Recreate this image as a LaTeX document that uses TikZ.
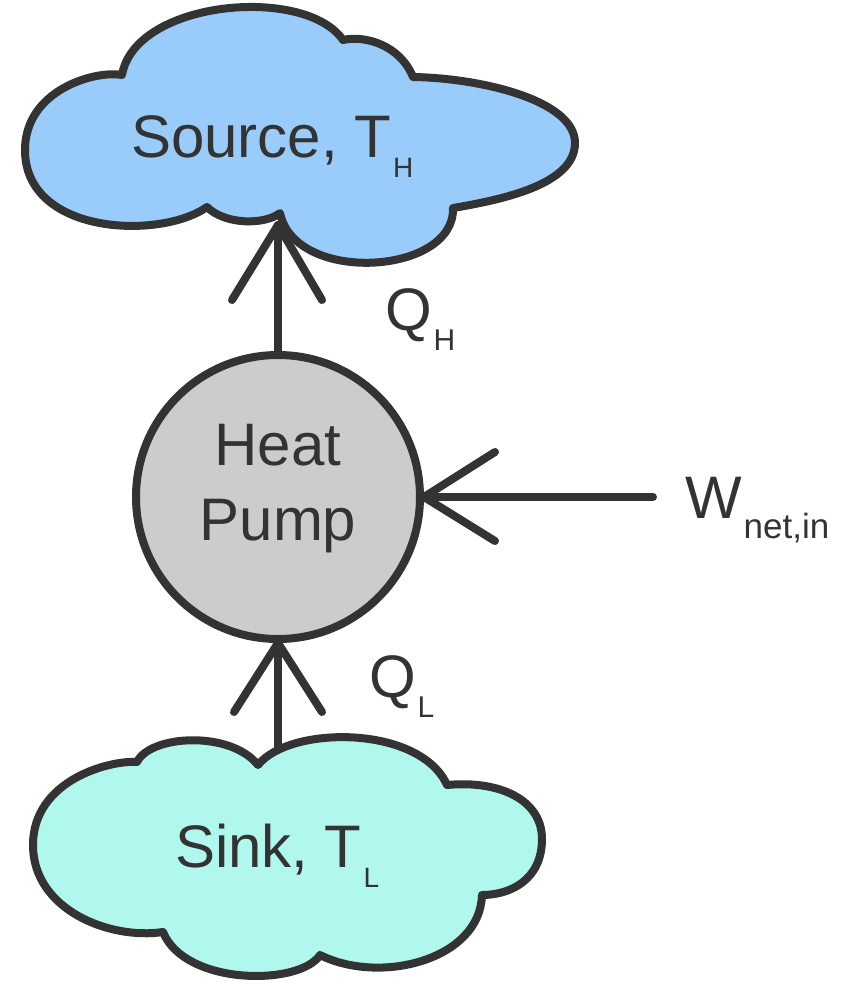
\documentclass[tikz,border=0pt]{standalone}
\usepackage{fontspec}
\setmainfont{Liberation Sans}
\usetikzlibrary{calc}
\definecolor{ink}{HTML}{333333}
\definecolor{srcfill}{HTML}{99CCFA}
\definecolor{sinkfill}{HTML}{B0F8EE}
\definecolor{hpfill}{HTML}{CCCCCC}
\newcommand{\subtxt}[2]{\kern1pt\raisebox{-10pt}{\fontsize{#1}{#1}\selectfont #2}}
\begin{document}
\begin{tikzpicture}[x=0.5pt,y=-0.5pt,
  outline/.style={draw=ink,line width=4pt,line join=round},
  conn/.style={draw=ink,line width=4pt,line cap=round,line join=round},
  txt/.style={text=ink,inner sep=0pt,outer sep=0pt,font=\fontsize{30pt}{37.5pt}\selectfont},
]
\useasboundingbox (0,0) rectangle (848,982);
% source cloud
\path[outline,fill=srcfill] (122,75) .. controls (135,0) and (305,-15) .. (343,40)
 .. controls (365,35) and (400,45) .. (413,77)
 .. controls (480,78) and (575,100) .. (575,143)
 .. controls (575,185) and (500,200) .. (453,208)
 .. controls (455,275) and (295,285) .. (280,213)
 .. controls (265,225) and (225,225) .. (207,207)
 .. controls (160,240) and (25,235) .. (25,150)
 .. controls (25,90) and (95,70) .. cycle;
% sink cloud
\path[outline,fill=sinkfill] (137,762) .. controls (150,735) and (230,730) .. (258,765)
 .. controls (290,725) and (420,725) .. (447,785)
 .. controls (500,780) and (542,800) .. (542,839)
 .. controls (542,880) and (510,895) .. (482,895)
 .. controls (480,960) and (380,985) .. (320,955)
 .. controls (300,986) and (185,986) .. (163,932)
 .. controls (110,940) and (33,910) .. (33,845)
 .. controls (33,780) and (110,760) .. cycle;
% heat pump
\node[circle,draw=ink,line width=4pt,fill=hpfill,minimum size=142pt,inner sep=0pt] (hp) at (278,497) {};
\node[txt,align=center] (hplbl) at (278,489) {Heat\\Pump};
% labels
\node[txt,anchor=base west] (srclbl) at (131,157) {Source, T\subtxt{14pt}{H}};
\node[txt,anchor=base west] (sinklbl) at (175,867) {Sink, T\subtxt{14pt}{L}};
\node[txt,anchor=base west] (qh) at (385,330) {Q\subtxt{15pt}{H}};
\node[txt,anchor=base west] (ql) at (369,697) {Q\subtxt{15pt}{L}};
\node[txt,anchor=base west] (w) at (685,518) {W\subtxt{17.5pt}{net,in}};
% connectors
\coordinate (tipH) at (278,225);
\coordinate (sinkTop) at (278,750);
\coordinate (wEnd) at (653,497);
\draw[conn] (hp.north) -- (tipH);
\draw[conn] ($(tipH)+(-46,75)$) -- (tipH) -- ($(tipH)+(44,75)$);
\draw[conn] (sinkTop) -- (hp.south);
\draw[conn] ($(hp.south)+(-44,69)$) -- (hp.south) -- ($(hp.south)+(44,69)$);
\draw[conn] (wEnd) -- (hp.east);
\draw[conn] ($(hp.east)+(71,-45)$) -- (hp.east) -- ($(hp.east)+(71,44)$);
\end{tikzpicture}
\end{document}
